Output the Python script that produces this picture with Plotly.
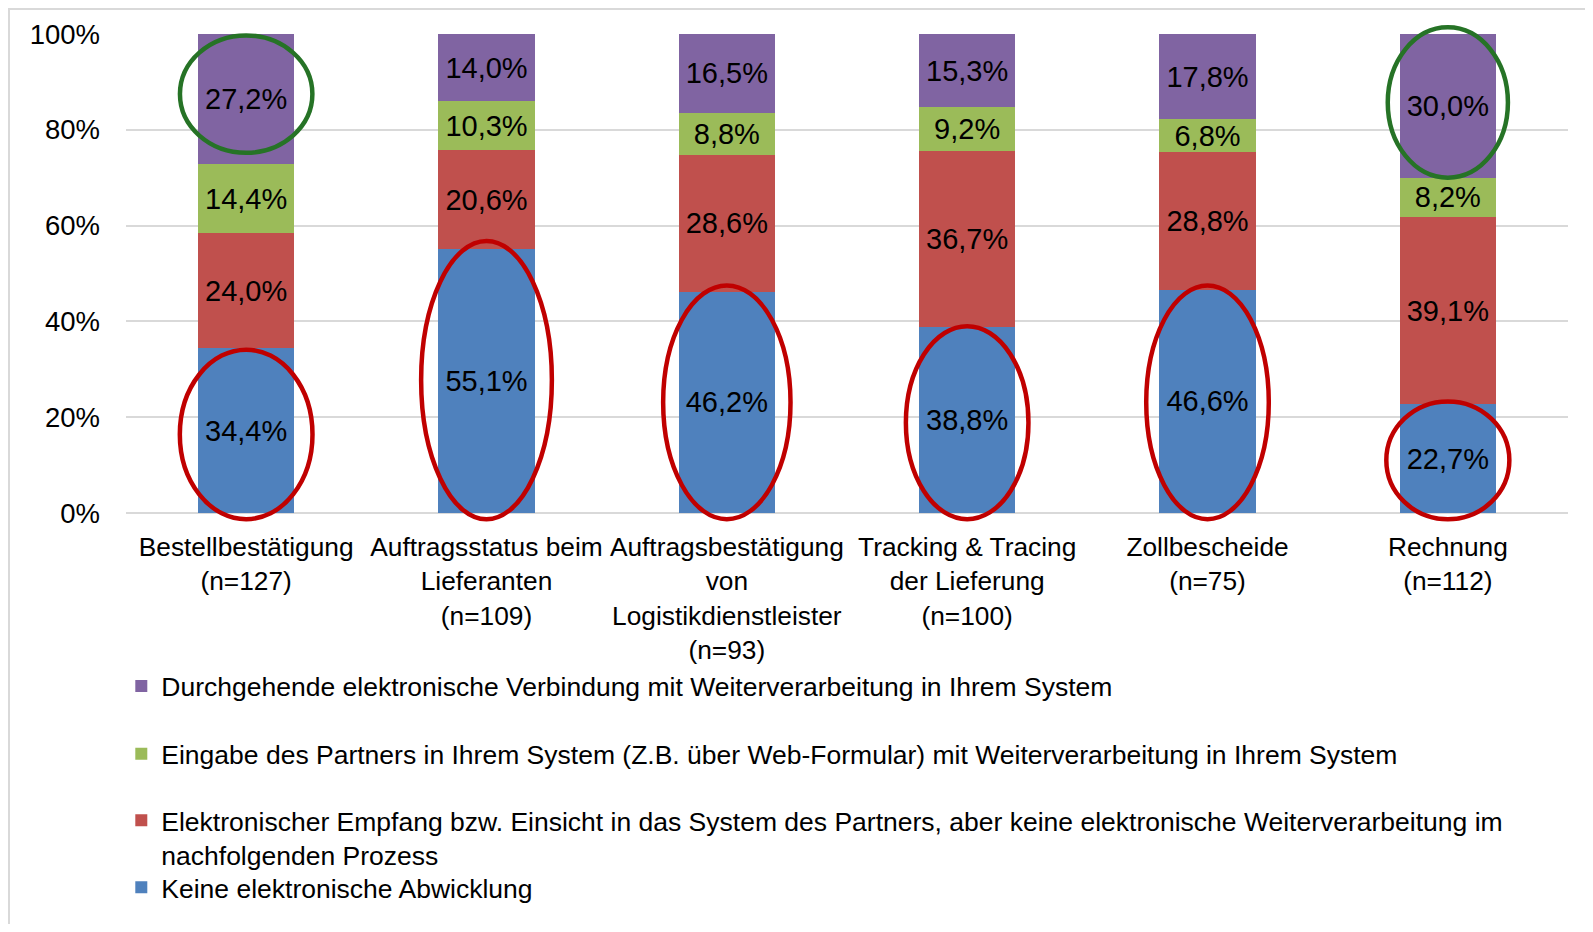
import plotly.graph_objects as go

categories = [
    "Bestellbestätigung<br>(n=127)",
    "Auftragsstatus beim<br>Lieferanten<br>(n=109)",
    "Auftragsbestätigung<br>von<br>Logistikdienstleister<br>(n=93)",
    "Tracking & Tracing<br>der Lieferung<br>(n=100)",
    "Zollbescheide<br>(n=75)",
    "Rechnung<br>(n=112)",
]
keine = [34.4, 55.1, 46.2, 38.8, 46.6, 22.7]
empfang = [24.0, 20.6, 28.6, 36.7, 28.8, 39.1]
eingabe = [14.4, 10.3, 8.8, 9.2, 6.8, 8.2]
durchgehend = [27.2, 14.0, 16.5, 15.3, 17.8, 30.0]

names = [
    "Keine elektronische Abwicklung",
    "Elektronischer Empfang bzw. Einsicht in das System des Partners, aber keine elektronische Weiterverarbeitung im<br>nachfolgenden Prozess",
    "Eingabe des Partners in Ihrem System (Z.B. über Web-Formular) mit Weiterverarbeitung in Ihrem System",
    "Durchgehende elektronische Verbindung mit Weiterverarbeitung in Ihrem System",
]
series = [keine, empfang, eingabe, durchgehend]
colors = ["#4F81BD", "#C0504D", "#9BBB59", "#8064A2"]
legend_ids = ["legend4", "legend3", "legend2", "legend"]

yticks = [0, 20, 40, 60, 80, 100]
ytick_labels = ["0%", "20%", "40%", "60%", "80%", "100%"]

# highlighted segments (category index) and ellipse styling
red_idx = [0, 1, 2, 3, 4, 5]
red_halfw = [0.276, 0.272, 0.265, 0.255, 0.255, 0.256]
red_pad_hi = [-0.3, 1.7, 1.3, 0.2, 0.9, 0.6]
red_pad_lo = -1.3
green_idx = [0, 5]
green_halfw = [0.2755, 0.25]
green_pad = [(2.4, -0.3), (0.0, 1.4)]

FONT = "Liberation Sans, Arial, sans-serif"

# page body has an 8px margin; figure sized so the page fits the window
OFF = 8
W, H = 1593 - 2 * OFF, 932 - 2 * OFF
L, T, PW, PH = 118, 26, 1442, 481


def px(xs):  # screen x -> paper x
    return (xs - OFF - L) / PW


def py(ys):  # screen y -> paper y
    return (T + PH - (ys - OFF)) / PH


fig = go.Figure()
for vals, name, col, lg in zip(series, names, colors, legend_ids):
    fig.add_trace(go.Bar(
        x=categories, y=vals, name=name, legend=lg,
        marker=dict(color=col, line=dict(width=0)),
        texttemplate="%{y:.1f}%", textposition="inside",
        insidetextanchor="middle", constraintext="none", textangle=0,
        textfont=dict(size=29, color="black", family=FONT),
        hoverinfo="skip",
    ))

shapes = []
for i, hw, ph in zip(red_idx, red_halfw, red_pad_hi):
    v = keine[i]
    shapes.append(dict(type="circle", xref="x", yref="paper",
                       x0=i - hw, x1=i + hw,
                       y0=red_pad_lo / 100, y1=(v + ph) / 100,
                       line=dict(color="#C00000", width=4.5)))
for i, hw, (plo, phi) in zip(green_idx, green_halfw, green_pad):
    lo = keine[i] + empfang[i] + eingabe[i]
    shapes.append(dict(type="circle", xref="x", yref="paper",
                       x0=i - hw, x1=i + hw,
                       y0=(lo + plo) / 100, y1=(100 + phi) / 100,
                       line=dict(color="#267326", width=4.5)))

# outer frame (top & left visible)
shapes.append(dict(type="rect", xref="paper", yref="paper",
                   x0=px(9), x1=px(1620), y0=py(960), y1=py(9),
                   line=dict(color="#D9D9D9", width=2), layer="below"))

leg_common = dict(font=dict(size=26.5, family=FONT, color="black"),
                  bgcolor="rgba(0,0,0,0)", borderwidth=0,
                  xanchor="left", yanchor="middle", valign="top",
                  itemclick=False, itemdoubleclick=False)
lx = px(121.3)
fig.update_layout(
    template="none",
    width=W, height=H,
    margin=dict(l=L, r=W - L - PW, t=T, b=H - T - PH, pad=0),
    barmode="stack", bargap=0.6,
    separators=",.",
    plot_bgcolor="white", paper_bgcolor="white",
    font=dict(family=FONT, color="black"),
    showlegend=True,
    legend=dict(x=lx, y=py(689), **leg_common),
    legend2=dict(x=lx, y=py(757), **leg_common),
    legend3=dict(x=lx, y=py(841), **leg_common),
    legend4=dict(x=lx, y=py(891), **leg_common),
    xaxis=dict(showgrid=False, showline=False, zeroline=False, ticks="",
               ticklabelstandoff=16, automargin=False,
               tickfont=dict(size=26.3, family=FONT, color="black"),
               fixedrange=True),
    yaxis=dict(range=[0, 100], tickmode="array", tickvals=yticks,
               ticktext=ytick_labels,
               showgrid=True, gridcolor="#D9D9D9", gridwidth=1.5,
               zeroline=True, zerolinecolor="#D9D9D9", zerolinewidth=1.5,
               showline=False, ticks="", ticklabelstandoff=25,
               automargin=False,
               tickfont=dict(size=27.5, family=FONT, color="black"),
               fixedrange=True),
    shapes=shapes,
)
fig.write_html("out.html")
